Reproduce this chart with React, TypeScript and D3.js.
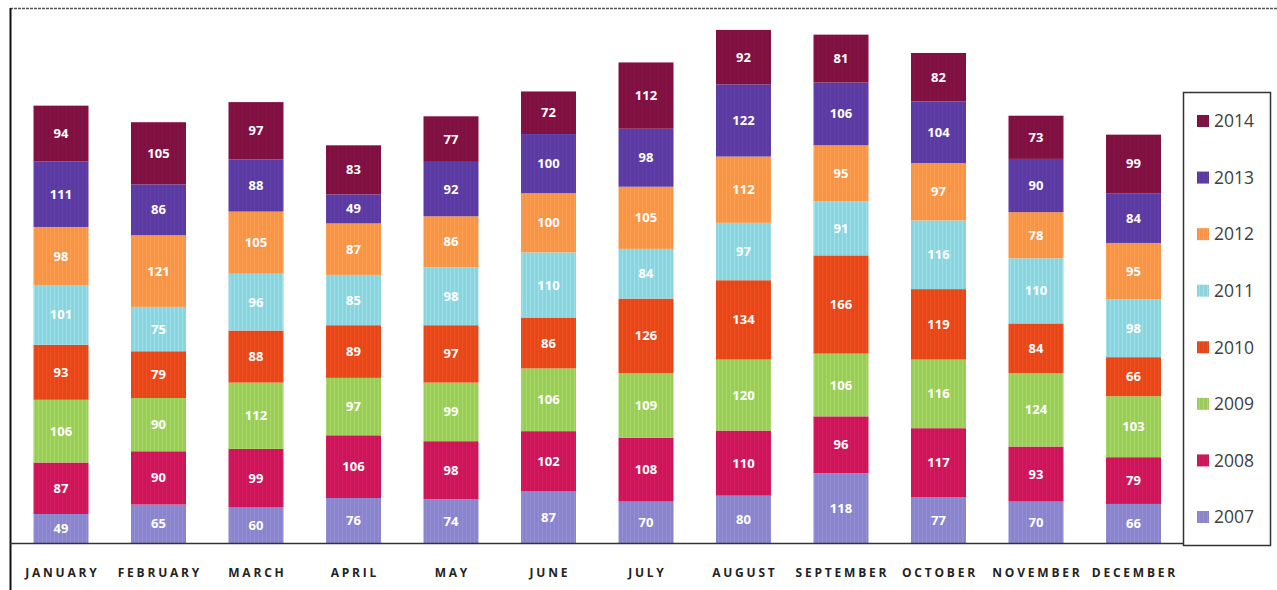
import React, { useEffect, useRef } from "react";
import * as d3 from "d3";

const months = ["JANUARY", "FEBRUARY", "MARCH", "APRIL", "MAY", "JUNE", "JULY", "AUGUST", "SEPTEMBER", "OCTOBER", "NOVEMBER", "DECEMBER"];
const years = ["2007", "2008", "2009", "2010", "2011", "2012", "2013", "2014"];

const v2007 = [49, 65, 60, 76, 74, 87, 70, 80, 118, 77, 70, 66];
const v2008 = [87, 90, 99, 106, 98, 102, 108, 110, 96, 117, 93, 79];
const v2009 = [106, 90, 112, 97, 99, 106, 109, 120, 106, 116, 124, 103];
const v2010 = [93, 79, 88, 89, 97, 86, 126, 134, 166, 119, 84, 66];
const v2011 = [101, 75, 96, 85, 98, 110, 84, 97, 91, 116, 110, 98];
const v2012 = [98, 121, 105, 87, 86, 100, 105, 112, 95, 97, 78, 95];
const v2013 = [111, 86, 88, 49, 92, 100, 98, 122, 106, 104, 90, 84];
const v2014 = [94, 105, 97, 83, 77, 72, 112, 92, 81, 82, 73, 99];

const colors = ["#8a84c9", "#c8185a", "#9bcb5c", "#e2481c", "#8ed3dc", "#f7944a", "#5b3b9f", "#7d1140"];

const W = 1277;
const H = 590;

export default function App() {
  const ref = useRef<SVGSVGElement>(null);

  useEffect(() => {
    const svg = d3.select(ref.current);
    svg.selectAll("*").remove();

    const series = [v2007, v2008, v2009, v2010, v2011, v2012, v2013, v2014];
    const rows = months.map((m, i) => {
      const r: any = { month: m };
      years.forEach((y, k) => (r[y] = series[k][i]));
      return r;
    });
    const stacked = d3.stack().keys(years)(rows);

    const x = d3.scaleBand().domain(months).range([12.25, 1182.25]).paddingInner(0.436).paddingOuter(0.218);
    const y = d3.scaleLinear().domain([0, 904]).range([543, 8]);

    // stripe patterns
    const defs = svg.append("defs");
    colors.forEach((c, k) => {
      const p = defs.append("pattern")
        .attr("id", "stripe" + k)
        .attr("patternUnits", "userSpaceOnUse")
        .attr("width", 4)
        .attr("height", 4);
      p.append("rect").attr("width", 4).attr("height", 4).attr("fill", c);
      p.append("rect").attr("x", 2).attr("width", 1).attr("height", 4)
        .attr("fill", d3.color(c)!.brighter(0.35).toString()).attr("opacity", 0.6);
    });

    // frame
    svg.append("line").attr("x1", 10).attr("x2", W).attr("y1", 8.5).attr("y2", 8.5)
      .attr("stroke", "#555").attr("stroke-width", 1.4).attr("stroke-dasharray", "3,1");
    svg.append("line").attr("x1", 10.5).attr("x2", 10.5).attr("y1", 8).attr("y2", H)
      .attr("stroke", "#111").attr("stroke-width", 2);

    // bars
    stacked.forEach((s, k) => {
      const g = svg.append("g");
      g.selectAll("rect")
        .data(s)
        .enter()
        .append("rect")
        .attr("x", (d: any) => x(d.data.month)!)
        .attr("width", x.bandwidth())
        .attr("y", (d) => y(d[1]))
        .attr("height", (d) => y(d[0]) - y(d[1]))
        .attr("fill", "url(#stripe" + k + ")");
      g.selectAll("text")
        .data(s)
        .enter()
        .append("text")
        .attr("x", (d: any) => x(d.data.month)! + x.bandwidth() / 2)
        .attr("y", (d) => (y(d[0]) + y(d[1])) / 2)
        .attr("dy", "0.35em")
        .attr("text-anchor", "middle")
        .attr("fill", "#fff")
        .attr("font-family", "Open Sans, sans-serif")
        .attr("font-weight", "bold")
        .attr("font-size", 13)
        .text((d, i) => series[k][i]);
    });

    // axis line
    svg.append("line").attr("x1", 10).attr("x2", 1185).attr("y1", 543.5).attr("y2", 543.5)
      .attr("stroke", "#333").attr("stroke-width", 1.5);

    // month labels
    svg.append("g").selectAll("text")
      .data(months)
      .enter()
      .append("text")
      .attr("x", (d) => x(d)! + x.bandwidth() / 2 + 1.4)
      .attr("y", 577)
      .attr("text-anchor", "middle")
      .attr("font-family", "Open Sans, sans-serif")
      .attr("font-weight", "bold")
      .attr("font-size", 12)
      .attr("letter-spacing", 2.8)
      .attr("fill", "#222")
      .text((d) => d);

    // legend
    svg.append("rect").attr("x", 1183.5).attr("y", 92.5).attr("width", 87).attr("height", 453)
      .attr("fill", "#fff").attr("stroke", "#333").attr("stroke-width", 1.5);
    const legendY = d3.scalePoint().domain(years.slice().reverse()).range([121, 517]);
    const lg = svg.append("g").selectAll("g")
      .data(years)
      .enter()
      .append("g")
      .attr("transform", (d) => "translate(1197," + legendY(d) + ")");
    lg.append("rect").attr("y", -6).attr("width", 12).attr("height", 12)
      .attr("fill", (d, i) => "url(#stripe" + i + ")");
    lg.append("text").attr("x", 17).attr("dy", "0.36em")
      .attr("font-family", "Open Sans, sans-serif")
      .attr("font-size", 17.5)
      .attr("fill", "#404040")
      .text((d) => d);
  }, []);

  return (
    <div style={{ position: "absolute", left: 0, top: 0 }}>
      <svg ref={ref} width={W} height={H} style={{ display: "block", background: "#fff" }}></svg>
    </div>
  );
}
